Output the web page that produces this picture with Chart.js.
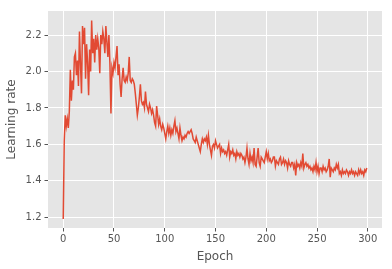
<!DOCTYPE html>
<html>
<head>
<meta charset="utf-8">
<script src="https://cdn.jsdelivr.net/npm/chart.js@4/dist/chart.umd.min.js"></script>
<style>
html,body{margin:0;padding:0;background:#fff;}
#wrap{width:392px;height:269px;position:relative;}
</style>
</head>
<body>
<div id="wrap"><canvas id="c" width="392" height="269"></canvas></div>
<script>
const epochs = Array.from({length: 300}, (_, i) => i);
const learningRate = [
1.19, 1.62, 1.76, 1.70, 1.74, 1.69, 1.78, 2.01, 1.84, 1.95,
1.90, 2.08, 2.10, 1.98, 2.06, 1.92, 2.22, 2.04, 1.88, 2.25,
2.15, 2.24, 1.96, 2.15, 2.05, 1.87, 2.12, 2.00, 2.28, 2.10,
2.18, 2.05, 2.20, 2.12, 2.18, 2.13, 1.99, 2.20, 2.15, 2.22,
2.18, 2.10, 2.25, 2.16, 2.08, 2.20, 2.04, 1.77, 2.02, 1.99,
2.05, 2.02, 2.08, 2.14, 1.98, 2.04, 1.93, 1.86, 1.96, 2.02,
1.95, 1.94, 1.97, 1.95, 1.99, 2.08, 1.95, 1.94, 1.96, 1.95,
1.93, 1.88, 1.82, 1.76, 1.80, 1.86, 1.93, 1.84, 1.82, 1.83,
1.80, 1.89, 1.82, 1.80, 1.78, 1.82, 1.80, 1.77, 1.79, 1.76,
1.72, 1.70, 1.81, 1.76, 1.71, 1.74, 1.70, 1.68, 1.71, 1.69,
1.66, 1.63, 1.67, 1.70, 1.66, 1.69, 1.65, 1.68, 1.66, 1.70,
1.73, 1.67, 1.69, 1.66, 1.63, 1.69, 1.65, 1.62, 1.64, 1.63,
1.65, 1.64, 1.66, 1.67, 1.66, 1.67, 1.68, 1.66, 1.63, 1.62,
1.61, 1.64, 1.62, 1.60, 1.58, 1.56, 1.60, 1.63, 1.61, 1.63,
1.62, 1.64, 1.60, 1.65, 1.60, 1.57, 1.54, 1.59, 1.60, 1.58,
1.62, 1.60, 1.58, 1.59, 1.60, 1.55, 1.58, 1.56, 1.57, 1.55,
1.56, 1.54, 1.57, 1.60, 1.53, 1.56, 1.55, 1.57, 1.54, 1.55,
1.52, 1.56, 1.54, 1.55, 1.53, 1.55, 1.54, 1.52, 1.53, 1.50,
1.53, 1.58, 1.52, 1.49, 1.55, 1.51, 1.53, 1.50, 1.58, 1.49,
1.48, 1.53, 1.58, 1.50, 1.48, 1.53, 1.52, 1.51, 1.50, 1.53,
1.56, 1.52, 1.55, 1.51, 1.52, 1.50, 1.51, 1.53, 1.53, 1.48,
1.51, 1.50, 1.49, 1.52, 1.53, 1.49, 1.50, 1.52, 1.49, 1.51,
1.50, 1.47, 1.51, 1.49, 1.48, 1.50, 1.50, 1.47, 1.49, 1.43,
1.50, 1.48, 1.49, 1.47, 1.50, 1.48, 1.55, 1.47, 1.49, 1.50,
1.48, 1.49, 1.47, 1.48, 1.46, 1.47, 1.45, 1.48, 1.46, 1.50,
1.45, 1.48, 1.44, 1.47, 1.47, 1.45, 1.48, 1.46, 1.47, 1.45,
1.46, 1.48, 1.52, 1.42, 1.47, 1.46, 1.45, 1.47, 1.46, 1.49,
1.47, 1.49, 1.44, 1.45, 1.43, 1.46, 1.44, 1.45, 1.44, 1.46,
1.45, 1.43, 1.45, 1.44, 1.46, 1.44, 1.45, 1.43, 1.45, 1.44,
1.43, 1.46, 1.44, 1.46, 1.44, 1.45, 1.43, 1.46, 1.45, 1.47
];
const xTickValues = [0, 50, 100, 150, 200, 250, 300];
const yTickValues = [1.2, 1.4, 1.6, 1.8, 2.0, 2.2];
const xLabel = "Epoch";
const yLabel = "Learning rate";

const bgPlugin = {
  id: 'bg',
  beforeDraw(chart) {
    const {ctx, chartArea: a} = chart;
    ctx.save();
    ctx.fillStyle = '#E5E5E5';
    ctx.fillRect(a.left, a.top, a.right - a.left, a.bottom - a.top);
    ctx.restore();
  }
};

const tickFont = {family: 'DejaVu Sans', size: 10};
const titleFont = {family: 'DejaVu Sans', size: 12};

new Chart(document.getElementById('c'), {
  type: 'line',
  data: {
    datasets: [{
      data: epochs.map((e, i) => ({x: e, y: learningRate[i]})),
      borderColor: '#E24A33',
      borderWidth: 1.5,
      pointRadius: 0,
      tension: 0,
      fill: false
    }]
  },
  options: {
    responsive: false,
    animation: false,
    devicePixelRatio: 1,
    layout: {padding: {left: 5, top: 11, right: 10, bottom: 0}},
    plugins: {legend: {display: false}, tooltip: {enabled: false}},
    scales: {
      x: {
        type: 'linear',
        min: -15, max: 314,
        afterBuildTicks: s => { s.ticks = xTickValues.map(v => ({value: v})); },
        afterFit: s => { s.height = 41; },
        grid: {color: '#FFFFFF', lineWidth: 1, drawTicks: true, tickLength: 3.5, tickColor: '#555555'},
        border: {display: false},
        ticks: {color: '#555555', font: tickFont, padding: 2, maxRotation: 0, autoSkip: false},
        title: {display: true, text: xLabel, color: '#555555', font: titleFont, padding: {top: 2, bottom: 5}}
      },
      y: {
        type: 'linear',
        min: 1.141, max: 2.332,
        afterBuildTicks: s => { s.ticks = yTickValues.map(v => ({value: v})); },
        afterFit: s => { s.width = 43; },
        grid: {color: '#FFFFFF', lineWidth: 1, drawTicks: true, tickLength: 3.5, tickColor: '#555555'},
        border: {display: false},
        ticks: {color: '#555555', font: tickFont, padding: 3, autoSkip: false, callback: v => v.toFixed(1)},
        title: {display: true, text: yLabel, color: '#555555', font: titleFont, padding: {top: 0, bottom: 2}}
      }
    }
  },
  plugins: [bgPlugin]
});
</script>
</body>
</html>
